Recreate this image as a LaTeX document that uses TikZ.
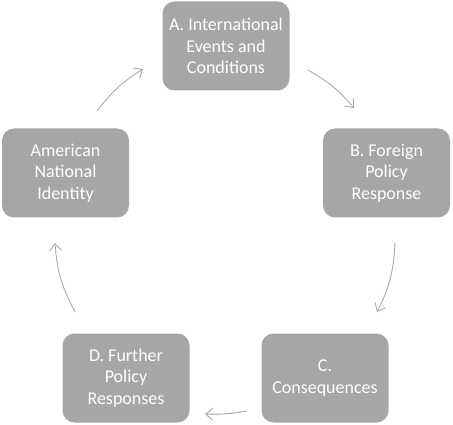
\documentclass[tikz,border=0pt]{standalone}
\usepackage{fontspec}
\setmainfont{Carlito}
\usetikzlibrary{arrows.meta}
\definecolor{boxgray}{RGB}{166,166,166}
\definecolor{arrowgray}{RGB}{170,170,170}
\tikzset{
  cyclebox/.style={draw=none, fill=boxgray, rounded corners=12pt, text=white,
    minimum width=127pt, minimum height=89pt, align=center, inner sep=2pt,
    font=\fontsize{18pt}{21.6pt}\selectfont},
  cyclearrow/.style={draw=arrowgray, line width=0.9pt,
    -{Straight Barb[length=7pt,width=12pt,line width=0.9pt]}}
}
\begin{document}
\begin{tikzpicture}[x=1pt,y=-1pt]
\useasboundingbox[fill=white] (0,0) rectangle (453,425);
\node[cyclebox] (A) at (226,46) {A. International\\Events and\\Conditions};
\node[cyclebox] (B) at (386.5,173) {B. Foreign\\Policy\\Response};
\node[cyclebox] (C) at (325,378) {C.\\Consequences};
\node[cyclebox] (D) at (126,378) {D. Further\\Policy\\Responses};
\node[cyclebox] (N) at (65.5,173) {American\\National\\Identity};
\coordinate (ab1) at (308,70);  \coordinate (ab2) at (354,108);
\coordinate (bc1) at (395,243); \coordinate (bc2) at (377,312);
\coordinate (cd1) at (247,411); \coordinate (cd2) at (205,414);
\coordinate (dn1) at (75,312);  \coordinate (dn2) at (55,243);
\coordinate (na1) at (97,111);  \coordinate (na2) at (143,69);
\draw[cyclearrow] (ab1) to[bend left=10] (ab2);
\draw[cyclearrow] (bc1) to[bend left=12] (bc2);
\draw[cyclearrow] (cd1) to[bend left=6] (cd2);
\draw[cyclearrow] (dn1) to[bend left=12] (dn2);
\draw[cyclearrow] (na1) to[bend left=10] (na2);
\end{tikzpicture}
\end{document}
